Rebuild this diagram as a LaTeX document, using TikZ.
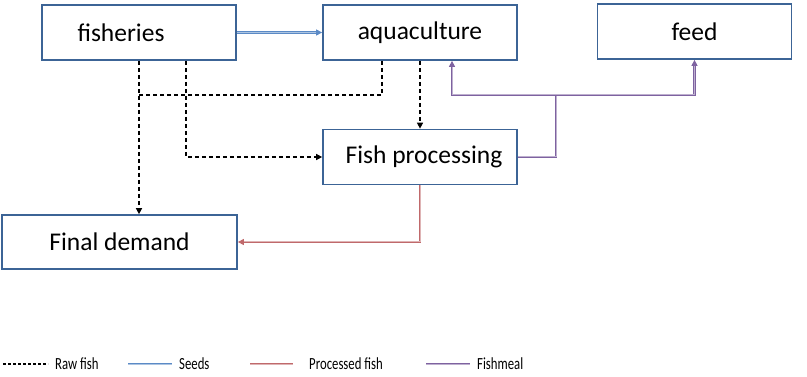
\documentclass[tikz,border=0pt]{standalone}
\usepackage{fontspec}
\setmainfont{Carlito}
\newfontfamily\legendfont[FakeStretch=0.75]{Carlito}
\usetikzlibrary{arrows.meta}
\definecolor{boxblue}{HTML}{3C6496}
\definecolor{seedblue}{HTML}{5B8AC6}
\definecolor{procred}{HTML}{C0696B}
\definecolor{mealpurple}{HTML}{7E62A0}
\tikzset{
  box/.style={draw=boxblue, line width=1.7pt, fill=white, minimum width=194pt, minimum height=55pt, inner sep=0pt, font=\fontsize{25.5}{30}\selectfont},
  rawfish/.style={black, line width=1.4pt, dash pattern=on 4pt off 3pt},
  flow/.style={line width=0.9pt, double=white!50!#1, double distance=1pt, draw=#1},
  tip/.style={-{Triangle[length=6pt,width=6pt]}},
  legtext/.style={right, inner sep=0pt, font=\legendfont\fontsize{17}{20}\selectfont}
}
\begin{document}
\begin{tikzpicture}[x=1pt, y=-1pt]
    \useasboundingbox (0, 0) rectangle (807, 377);
    \node [box] (fisheries) at (139, 32.5) {fisheries\kern36pt};
    \node [box] (aqua) at (420, 32.5) {aquaculture};
    \node [box] (feed) at (694.5, 31.5) {feed};
    \node [box] (proc) at (420, 157) {\kern8pt Fish processing};
    \node [box, minimum width=235pt, minimum height=54pt] (final) at (119.5, 242) {Final demand};
    % raw fish
    \draw [rawfish] [tip] (fisheries.south) -- (fisheries.south |- final.north);
    \draw [rawfish] [tip] ([xshift=47pt]fisheries.south) |- (proc.west);
    \draw [rawfish] ([xshift=-38pt]aqua.south) |- (139, 95);
    \draw [rawfish] [tip] (aqua.south) -- (proc.north);
    % seeds
    \draw [flow=seedblue] [tip] (fisheries.east) -- (aqua.west);
    % processed fish
    \draw [flow=procred] [tip] (proc.south) |- (final.east);
    % fishmeal
    \coordinate (split) at (556, 95);
    \draw [flow=mealpurple] (proc.east) -| (split);
    \draw [flow=mealpurple] [tip] (split) -| ([xshift=32pt]aqua.south);
    \draw [flow=mealpurple] [tip] (split) -| (feed.south);
    % legend
    \draw [rawfish, dash pattern=on 3pt off 2pt] (3, 364) -- (48, 364);
    \node [legtext] at (55, 364) {Raw fish};
    \draw [flow=seedblue] (128, 364) -- (172, 364);
    \node [legtext] at (179, 364) {Seeds};
    \draw [flow=procred] (250, 364) -- (293, 364);
    \node [legtext] at (309, 364) {Processed fish};
    \draw [flow=mealpurple] (426, 364) -- (470, 364);
    \node [legtext] at (477, 364) {Fishmeal};
\end{tikzpicture}
\end{document}
